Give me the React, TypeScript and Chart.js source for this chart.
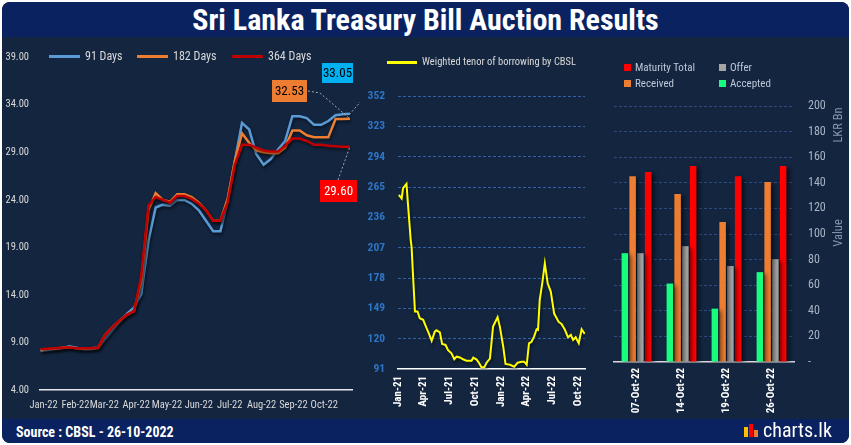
import React, { useEffect, useRef } from "react";
import { Chart, registerables } from "chart.js";
Chart.register(...registerables);

const FONT = '"Roboto Condensed", "Liberation Sans Narrow", "DejaVu Sans Condensed", "Arial Narrow", sans-serif';

// ---------- Left panel: T-bill yields (weekly auctions) ----------
const rateSeriesNames = ["91 Days", "182 Days", "364 Days"];
const firstAuctionDate = "2021-12-29";
const rate91 = [8.1, 8.2, 8.3, 8.4, 8.6, 8.45, 8.3, 8.3, 8.4, 9.4, 10.3, 11.2, 12.0, 12.7, 14.1, 19.7, 23.2, 23.5, 23.4, 24.0, 24.0, 23.6, 22.9, 21.8, 20.7, 20.7, 23.9, 28.1, 32.1, 31.4, 28.8, 27.7, 28.3, 29.3, 30.2, 32.8, 32.8, 32.6, 31.9, 31.9, 32.3, 32.9, 33.0, 33.05];
const rate182 = [8.2, 8.3, 8.35, 8.45, 8.5, 8.4, 8.35, 8.4, 8.45, 9.8, 10.6, 11.3, 11.9, 12.3, 15.5, 22.9, 24.7, 24.0, 23.8, 24.6, 24.6, 24.3, 23.7, 22.9, 21.8, 21.8, 24.1, 28.1, 31.0, 30.0, 29.2, 29.0, 28.9, 28.9, 29.5, 31.3, 31.3, 30.8, 30.6, 30.6, 30.6, 32.5, 32.5, 32.53];
const rate364 = [8.3, 8.35, 8.4, 8.45, 8.5, 8.4, 8.4, 8.4, 8.45, 9.8, 10.6, 11.3, 11.9, 12.3, 16.0, 23.4, 24.3, 24.0, 23.7, 24.4, 24.4, 24.1, 23.6, 22.9, 21.8, 21.8, 23.7, 27.7, 29.8, 29.8, 29.5, 29.2, 29.1, 29.1, 29.7, 30.45, 30.45, 30.2, 29.8, 29.8, 29.7, 29.65, 29.6, 29.6];
const monthTickLabels = ["Jan-22", "Feb-22", "Mar-22", "Apr-22", "May-22", "Jun-22", "Jul-22", "Aug-22", "Sep-22", "Oct-22"];
const monthTickDates = ["2022-01-01", "2022-02-01", "2022-03-01", "2022-04-01", "2022-05-01", "2022-06-01", "2022-07-01", "2022-08-01", "2022-09-01", "2022-10-01"];
const rateAxisTicks = [4, 9, 14, 19, 24, 29, 34, 39];

// ---------- Middle panel: weighted tenor ----------
const tenorDates = ["2021-01-04", "2021-01-14", "2021-01-19", "2021-01-31", "2021-02-06", "2021-02-15", "2021-02-18", "2021-02-24", "2021-03-02", "2021-03-11", "2021-03-19", "2021-03-31", "2021-04-12", "2021-04-20", "2021-04-30", "2021-05-11", "2021-05-17", "2021-05-29", "2021-06-06", "2021-06-18", "2021-06-27", "2021-07-09", "2021-07-19", "2021-07-27", "2021-08-08", "2021-08-19", "2021-08-31", "2021-09-18", "2021-09-24", "2021-10-06", "2021-10-14", "2021-10-23", "2021-11-02", "2021-11-10", "2021-11-22", "2021-12-03", "2021-12-19", "2021-12-27", "2022-01-08", "2022-01-16", "2022-02-01", "2022-02-16", "2022-02-28", "2022-03-14", "2022-03-23", "2022-04-01", "2022-04-09", "2022-04-18", "2022-04-27", "2022-05-06", "2022-05-11", "2022-05-17", "2022-05-26", "2022-06-04", "2022-06-14", "2022-06-25", "2022-07-07", "2022-07-23", "2022-08-02", "2022-08-14", "2022-08-25", "2022-09-04", "2022-09-12", "2022-09-21", "2022-10-02", "2022-10-12", "2022-10-23"];
const tenorValues = [257.5, 254, 264, 268, 246, 214, 208, 176, 146, 146, 139.5, 138, 130, 125, 118, 126.7, 128, 126, 115, 114, 109, 106, 100.3, 102.8, 102, 100.3, 99, 99, 101.8, 100, 97, 92.6, 92.6, 97, 101, 131.5, 140.5, 131.5, 112.3, 95.8, 95, 93.2, 97, 98, 98, 95, 115.6, 117, 122, 129, 128.5, 157, 173, 192, 173, 165, 144, 136, 134, 128.5, 121.3, 123.6, 118.8, 121.3, 115.6, 129, 124.5];
const quarterTickLabels = ["Jan-21", "Apr-21", "Jul-21", "Oct-21", "Jan-22", "Apr-22", "Jul-22", "Oct-22"];
const quarterTickDates = ["2021-01-01", "2021-04-01", "2021-07-01", "2021-10-01", "2022-01-01", "2022-04-01", "2022-07-01", "2022-10-01"];
const tenorAxisTicks = [91, 120, 149, 178, 207, 236, 265, 294, 323, 352];
const tenorLegend = "Weighted tenor of borrowing by CBSL";

// ---------- Right panel: auction amounts ----------
const auctionDates = ["07-Oct-22", "14-Oct-22", "19-Oct-22", "26-Oct-22"];
const acceptedAmt = [85, 61.3, 41.7, 70.2];
const receivedAmt = [145.2, 131.2, 109.3, 140.6];
const offerAmt = [85, 90.5, 75, 80.3];
const maturityAmt = [148.4, 153.1, 145.2, 153.1];
const amountAxisTicks = [0, 20, 40, 60, 80, 100, 120, 140, 160, 180, 200];

const dayOf = (d: string, base: string) => (Date.parse(d) - Date.parse(base)) / 86400000;

const shadowPlugin = (blur: number, ox: number, oy: number) => ({
  id: "shadow",
  beforeDatasetsDraw(chart: any) {
    const ctx = chart.ctx;
    ctx.save();
    ctx.shadowColor = "rgba(0,0,0,0.55)";
    ctx.shadowBlur = blur;
    ctx.shadowOffsetX = ox;
    ctx.shadowOffsetY = oy;
  },
  afterDatasetsDraw(chart: any) {
    chart.ctx.restore();
  },
});

function LeftChart() {
  const ref = useRef<HTMLCanvasElement>(null);
  useEffect(() => {
    const base = "2022-01-01";
    const start = dayOf(firstAuctionDate, base);
    const xs = rate91.map((_, i) => start + 7 * i);
    const monthDays = monthTickDates.map((d) => dayOf(d, base));
    const mk = (arr: number[]) => arr.map((v, i) => ({ x: xs[i], y: v }));
    const labelPlugin = {
      id: "endLabels",
      afterDraw(chart: any) {
        const ctx = chart.ctx;
        const specs = [
          { ds: 0, box: [282, 23, 31, 20], bg: "#00b0f0", fg: "#000", path: [[337, 43]] },
          { ds: 1, box: [232, 40, 35, 22], bg: "#ed7d31", fg: "#000", path: [[268, 51], [280, 53]] },
          { ds: 2, box: [280, 140, 37, 22], bg: "#ff0000", fg: "#fff", path: [[298, 140]] },
        ];
        ctx.save();
        specs.forEach((s) => {
          const meta = chart.getDatasetMeta(s.ds);
          const pt = meta.data[meta.data.length - 1];
          const data = chart.data.datasets[s.ds].data;
          const val = data[data.length - 1].y;
          ctx.strokeStyle = "#a6a6a6";
          ctx.lineWidth = 1;
          ctx.setLineDash([2, 2]);
          ctx.beginPath();
          ctx.moveTo(s.path[0][0] + 40, s.path[0][1]);
          for (let k = 1; k < s.path.length; k++) ctx.lineTo(s.path[k][0] + 40, s.path[k][1]);
          ctx.lineTo(pt.x, pt.y);
          ctx.stroke();
          ctx.setLineDash([]);
          const [bx, by, bw, bh] = s.box;
          ctx.fillStyle = s.bg;
          ctx.fillRect(bx + 40, by, bw, bh);
          ctx.fillStyle = s.fg;
          ctx.font = `13px ${FONT}`;
          ctx.textAlign = "center";
          ctx.textBaseline = "middle";
          ctx.fillText(val.toFixed(2), bx + 40 + bw / 2, by + bh / 2 + 1);
        });
        ctx.restore();
      },
    };
    const chart = new Chart(ref.current!, {
      type: "line",
      data: {
        datasets: [
          { label: rateSeriesNames[0], data: mk(rate91), borderColor: "#5b9bd5", borderWidth: 2.5, pointRadius: 0, order: 2 },
          { label: rateSeriesNames[1], data: mk(rate182), borderColor: "#ed7d31", borderWidth: 2.5, pointRadius: 0, order: 1 },
          { label: rateSeriesNames[2], data: mk(rate364), borderColor: "#c00000", borderWidth: 2.5, pointRadius: 0, order: 0 },
        ],
      },
      options: {
        animation: false,
        responsive: false,
        layout: { padding: { top: 16, right: 8, left: 0, bottom: 0 } },
        plugins: { legend: { display: false }, tooltip: { enabled: false } },
        scales: {
          x: {
            type: "linear",
            min: -3.5,
            max: 300,
            afterBuildTicks: (s: any) => { s.ticks = monthDays.map((v) => ({ value: v })); },
            afterFit: (s: any) => { s.height = 30; },
            grid: { display: false, drawTicks: false },
            border: { display: true, color: "#e8e8e8", width: 1.5 },
            ticks: { autoSkip: false, maxRotation: 0, padding: 9, color: "#d9d9d9", font: { family: FONT, size: 10.5 }, callback: (_v: any, i: number) => monthTickLabels[i] },
          },
          y: {
            min: 4,
            max: 39,
            afterBuildTicks: (s: any) => { s.ticks = rateAxisTicks.map((v) => ({ value: v })); },
            afterFit: (s: any) => { s.width = 40; },
            grid: { display: false, drawTicks: false },
            border: { display: false },
            ticks: { padding: 11, color: "#d9d9d9", font: { family: FONT, size: 10.5 }, callback: (v: any) => Number(v).toFixed(2) },
          },
        },
      },
      plugins: [shadowPlugin(3, 1, 2), labelPlugin],
    } as any);
    return () => chart.destroy();
  }, []);
  return <canvas ref={ref} width={360} height={380} style={{ position: "absolute", left: 0, top: 40, width: 360, height: 380 }} />;
}

function MiddleChart() {
  const ref = useRef<HTMLCanvasElement>(null);
  useEffect(() => {
    const base = "2021-01-01";
    const qDays = quarterTickDates.map((d) => dayOf(d, base));
    const chart = new Chart(ref.current!, {
      type: "line",
      data: {
        datasets: [
          { label: tenorLegend, data: tenorValues.map((v, i) => ({ x: dayOf(tenorDates[i], base), y: v })), borderColor: "#ffff00", borderWidth: 2, pointRadius: 0 },
        ],
      },
      options: {
        animation: false,
        responsive: false,
        layout: { padding: { top: 56, right: 15, left: 0, bottom: 0 } },
        plugins: { legend: { display: false }, tooltip: { enabled: false } },
        scales: {
          x: {
            type: "linear",
            min: 0,
            max: 661,
            afterBuildTicks: (s: any) => { s.ticks = qDays.map((v) => ({ value: v })); },
            afterFit: (s: any) => { s.height = 51; },
            grid: { display: false, drawTicks: false },
            border: { display: true, color: "#ffffff", width: 1.5 },
            ticks: { autoSkip: false, minRotation: 90, maxRotation: 90, padding: 7, color: "#ffffff", font: { family: FONT, size: 11, weight: "bold" }, callback: (_v: any, i: number) => quarterTickLabels[i] },
          },
          y: {
            min: 91,
            max: 352,
            afterBuildTicks: (s: any) => { s.ticks = tenorAxisTicks.map((v) => ({ value: v })); },
            afterFit: (s: any) => { s.width = 38; },
            grid: { display: true, drawTicks: false, color: (c: any) => (c.tick && c.tick.value === 91 ? "rgba(0,0,0,0)" : "#3460a8"), lineWidth: 1 },
            border: { display: false, dash: [3, 2] },
            ticks: { padding: 13, color: "#2e75c6", font: { family: FONT, size: 11.5, weight: "bold" } },
          },
        },
      },
      plugins: [shadowPlugin(3, 1, 2)],
    } as any);
    return () => chart.destroy();
  }, []);
  return <canvas ref={ref} width={240} height={380} style={{ position: "absolute", left: 360, top: 40, width: 240, height: 380 }} />;
}

function RightChart() {
  const ref = useRef<HTMLCanvasElement>(null);
  useEffect(() => {
    const titlePlugin = {
      id: "sideTitles",
      afterDraw(chart: any) {
        const ctx = chart.ctx;
        ctx.save();
        ctx.fillStyle = "#8497b0";
        ctx.textAlign = "center";
        ctx.textBaseline = "middle";
        ctx.font = `12.5px ${FONT}`;
        [["LKR Bn", 85], ["Value", 193]].forEach(([t, y]) => {
          ctx.save();
          ctx.translate(239, y as number);
          ctx.rotate(-Math.PI / 2);
          ctx.fillText(t as string, 0, 0);
          ctx.restore();
        });
        ctx.restore();
      },
    };
    const common = { categoryPercentage: 0.69, barPercentage: 0.84 };
    const chart = new Chart(ref.current!, {
      type: "bar",
      data: {
        labels: auctionDates,
        datasets: [
          { label: "Accepted", data: acceptedAmt, backgroundColor: "#19fd7e", ...common },
          { label: "Received", data: receivedAmt, backgroundColor: "#ed7d31", ...common },
          { label: "Offer", data: offerAmt, backgroundColor: "#a5a5a5", ...common },
          { label: "Maturity Total", data: maturityAmt, backgroundColor: "#ff0000", ...common },
        ],
      },
      options: {
        animation: false,
        responsive: false,
        layout: { padding: { top: 66, right: 0, left: 14, bottom: 0 } },
        plugins: { legend: { display: false }, tooltip: { enabled: false } },
        scales: {
          x: {
            afterFit: (s: any) => { s.height = 58; },
            grid: { display: false, drawTicks: false },
            border: { display: true, color: "#d9d9d9", width: 1.5 },
            ticks: { autoSkip: false, minRotation: 90, maxRotation: 90, padding: 6, color: "#ffffff", font: { family: FONT, size: 11, weight: "bold" } },
          },
          y: {
            position: "right",
            min: 0,
            max: 200,
            afterBuildTicks: (s: any) => { s.ticks = amountAxisTicks.map((v) => ({ value: v })); },
            afterFit: (s: any) => { s.width = 57; },
            grid: { display: true, drawTicks: false, color: (c: any) => (c.tick && c.tick.value === 0 ? "rgba(0,0,0,0)" : "#2d4b80"), lineWidth: 1 },
            border: { display: false, dash: [3, 2] },
            ticks: { padding: 14, color: "#a9b4c6", font: { family: FONT, size: 12 }, callback: (v: any) => (Number(v) === 0 ? "-" : String(v)) },
          },
        },
      },
      plugins: [shadowPlugin(4, 3, 2), titlePlugin],
    } as any);
    return () => chart.destroy();
  }, []);
  return <canvas ref={ref} width={251} height={380} style={{ position: "absolute", left: 600, top: 40, width: 251, height: 380 }} />;
}

const abs = (o: React.CSSProperties): React.CSSProperties => ({ position: "absolute", ...o });

export default function App() {
  const legendText: React.CSSProperties = { fontFamily: FONT, color: "#d9d9d9", whiteSpace: "nowrap", lineHeight: 1 };
  return (
    <div style={{ position: "fixed", left: 0, top: 0, width: 851, height: 445, background: "#ffffff", overflow: "hidden" }}>
      <div style={abs({ left: 2, top: 2, width: 847, height: 441, background: "#13253f", borderRadius: 8, overflow: "hidden" })}>
        <div style={abs({ left: 0, top: 0, width: 847, height: 35, background: "#0b2260" })} />
        <div style={abs({ left: 0, top: 417, width: 847, height: 24, background: "#0b2260" })} />
      </div>
      <div style={abs({ left: 0, top: 2, width: 851, textAlign: "center", color: "#ffffff", fontFamily: FONT, fontWeight: "bold", fontSize: 30, lineHeight: "35px" })}>
        Sri Lanka Treasury Bill Auction Results
      </div>

      <LeftChart />
      <MiddleChart />
      <RightChart />

      {/* left legend */}
      {[
        { name: rateSeriesNames[0], color: "#5b9bd5", x: 49 },
        { name: rateSeriesNames[1], color: "#ed7d31", x: 137 },
        { name: rateSeriesNames[2], color: "#c00000", x: 232 },
      ].map((l) => (
        <React.Fragment key={l.name}>
          <div style={abs({ left: l.x, top: 55, width: 31, height: 3, background: l.color })} />
          <div style={abs({ ...legendText, left: l.x + 36, top: 50, fontSize: 12 })}>{l.name}</div>
        </React.Fragment>
      ))}

      {/* middle legend */}
      <div style={abs({ left: 387, top: 61, width: 30, height: 3, background: "#ffff00" })} />
      <div style={abs({ ...legendText, left: 422, top: 57, fontSize: 10.5 })}>{tenorLegend}</div>

      {/* right legend */}
      {[
        { name: "Maturity Total", color: "#ff0000", x: 624, y: 64 },
        { name: "Offer", color: "#a5a5a5", x: 719, y: 64 },
        { name: "Received", color: "#ed7d31", x: 624, y: 80 },
        { name: "Accepted", color: "#19fd7e", x: 719, y: 80 },
      ].map((l) => (
        <React.Fragment key={l.name}>
          <div style={abs({ left: l.x, top: l.y, width: 7, height: 7, background: l.color })} />
          <div style={abs({ ...legendText, color: "#bfc8d8", left: l.x + 11, top: l.y - 2, fontSize: 11 })}>{l.name}</div>
        </React.Fragment>
      ))}

      {/* footer */}
      <div style={abs({ left: 16, top: 424, color: "#ffffff", fontFamily: FONT, fontSize: 14, fontWeight: "bold", lineHeight: "16px" })}>Source : CBSL - 26-10-2022</div>
      <div style={abs({ left: 744, top: 427, width: 4, height: 10, background: "#ffc000" })} />
      <div style={abs({ left: 749, top: 424, width: 4, height: 13, background: "#ff0000" })} />
      <div style={abs({ left: 754, top: 430, width: 4, height: 7, background: "#ed7d31" })} />
      <div style={abs({ left: 763, top: 419, color: "#ffffff", fontFamily: FONT, fontSize: 20, lineHeight: "23px" })}>charts.lk</div>
    </div>
  );
}
